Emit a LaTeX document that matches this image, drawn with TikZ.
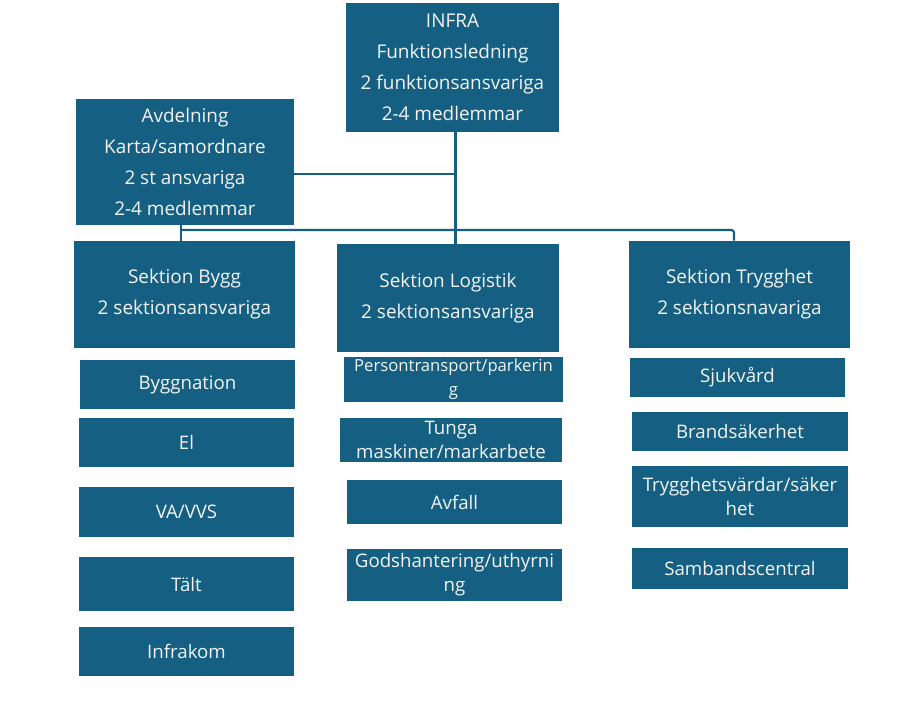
\documentclass[tikz,border=0pt]{standalone}
\usepackage{fontspec}
\setmainfont{Open Sans}
\definecolor{boxblue}{HTML}{156082}
\definecolor{boxtext}{HTML}{F4F4F4}
\newcommand{\bigtxt}{\fontsize{14.2pt}{23.25pt}\selectfont}
\newcommand{\smalltxt}{\fontsize{14pt}{18pt}\selectfont}
\newcommand{\tinytxt}{\fontsize{12.5pt}{18pt}\selectfont}
\begin{document}
\begin{tikzpicture}[x=0.75pt,y=-0.75pt,
  box/.style={fill=boxblue, text=boxtext, inner sep=0pt, align=center},
  sz/.style 2 args={minimum width=#1*0.75pt, minimum height=#2*0.75pt},
  head/.style={box, font=\bigtxt},
  sub/.style={box, font=\smalltxt},
  conn/.style={draw=boxblue, line width=1.6pt}]
\useasboundingbox[fill=white] (0,0) rectangle (914,700);

% top level
\node[head, sz={213}{129}] (infra) at (452.5,67.5) {INFRA\\Funktionsledning\\2 funktionsansvariga\\2-4 medlemmar};
\node[head, sz={218}{126}] (avd) at (185,162) {Avdelning\\Karta/samordnare\\2 st ansvariga\\2-4 medlemmar};

% sections
\node[head, sz={221}{107}] (bygg) at (184.5,294.5) {Sektion Bygg\\2 sektionsansvariga};
\node[head, sz={222}{108}] (logi) at (448,298) {Sektion Logistik\\2 sektionsansvariga};
\node[head, sz={221}{107}] (tryg) at (739.5,294.5) {Sektion Trygghet\\2 sektionsnavariga};

% Bygg sub-units
\node[sub, sz={215}{49}] (byggn) at (187.5,384.5) {Byggnation};
\node[sub, sz={215}{49}] (el) at (186.5,442.5) {El};
\node[sub, sz={215}{50}] (va) at (186.5,512) {VA/VVS};
\node[sub, sz={215}{54}] (talt) at (186.5,584) {Tält};
\node[sub, sz={215}{49}] (infrakom) at (186.5,651.5) {Infrakom};

% Logistik sub-units
\node[box, font=\tinytxt, sz={219}{45}] (pers) at (453.5,379.5) {Persontransport/parkerin\\g};
\node[sub, sz={222}{44}] (tunga) at (451,440) {Tunga\\maskiner/markarbete};
\node[sub, sz={215}{44}] (avfall) at (454.5,502) {Avfall};
\node[sub, sz={215}{52}] (gods) at (454.5,575) {Godshantering/uthyrni\\ng};

% Trygghet sub-units
\node[sub, sz={215}{39}] (sjuk) at (737.5,377.5) {Sjukvård};
\node[sub, sz={216}{39}] (brand) at (740,431.5) {Brandsäkerhet};
\node[sub, sz={216}{61}] (tryggv) at (740,496.5) {Trygghetsvärdar/säker\\het};
\node[sub, sz={216}{41}] (samb) at (740,568.5) {Sambandscentral};

% connectors
\coordinate (jx) at (455.5,230);
\coordinate (aj) at (455.5,174);
\coordinate (bl) at (181,230);
\coordinate (br) at (734,230);
\draw[conn] (jx |- infra.south) -- (jx |- logi.north);
\draw[conn] (aj -| avd.east) -- (aj);
\draw[conn] (bl |- avd.south) -- (bl |- bygg.north);
\draw[conn, rounded corners=2pt] (bl) -- (br) -- (br |- tryg.north);
\end{tikzpicture}
\end{document}
